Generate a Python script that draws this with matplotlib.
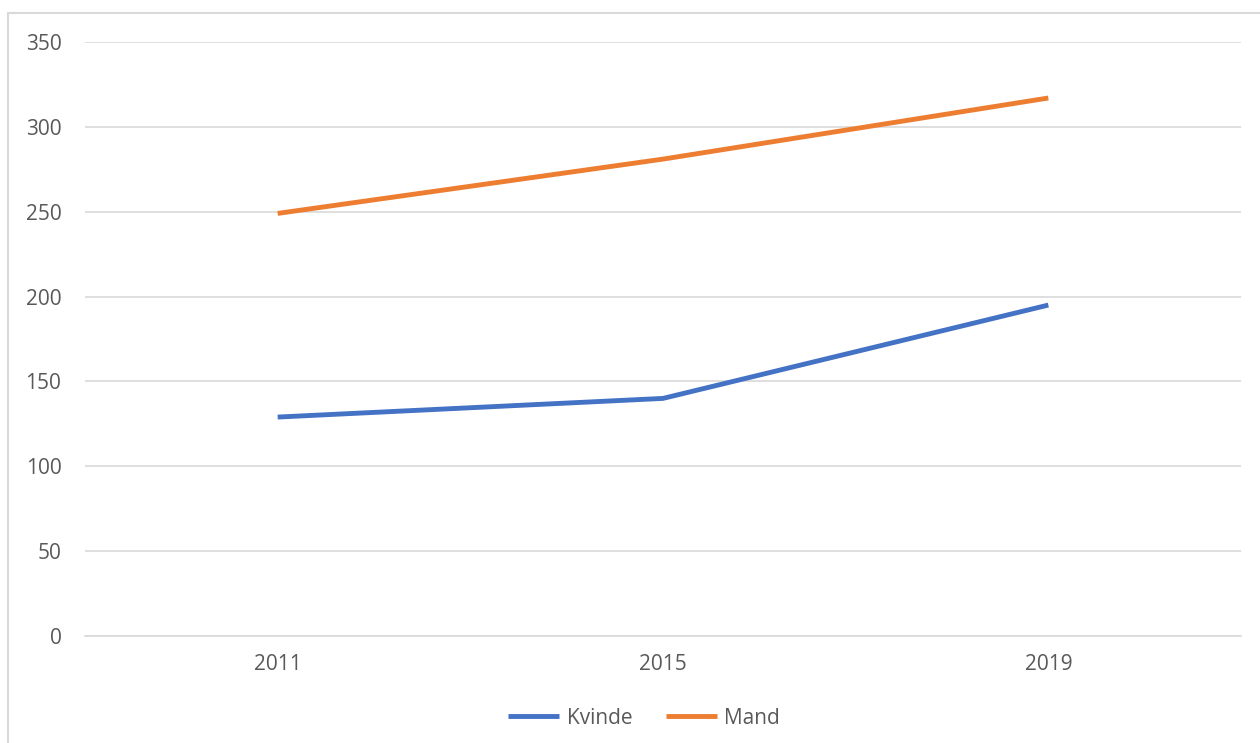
import matplotlib.pyplot as plt
from matplotlib.patches import Rectangle

years = ["2011", "2015", "2019"]
kvinde = [129, 140, 195]
mand = [249, 281, 317]
yticks = [0, 50, 100, 150, 200, 250, 300, 350]

plt.rcParams['font.family'] = ['Open Sans', 'DejaVu Sans']
text_color = '#595959'

fig = plt.figure(figsize=(12.6, 7.43), dpi=100)
ax = fig.add_axes([85 / 1260, 1 - 636 / 743, (1241 - 85) / 1260, (636 - 42) / 743])

x = [i + 0.5 for i in range(len(years))]
ax.plot(x, kvinde, color='#4472C4', lw=3.5, solid_capstyle='butt', label='Kvinde')
ax.plot(x, mand, color='#ED7D31', lw=3.5, solid_capstyle='butt', label='Mand')

ax.set_xlim(0, len(years))
ax.set_ylim(0, 350)
ax.set_yticks(yticks)
ax.set_xticks(x)
ax.set_xticklabels(years)
ax.yaxis.grid(True, color='#d9d9d9', lw=1.2)
ax.set_axisbelow(True)
for s in ax.spines.values():
    s.set_visible(False)
ax.spines['bottom'].set_visible(True)
ax.spines['bottom'].set_color('#d9d9d9')
ax.spines['bottom'].set_linewidth(1.2)
ax.tick_params(length=0, labelsize=15, colors=text_color)
ax.tick_params(axis='y', pad=17)
ax.tick_params(axis='x', pad=13)

leg = fig.legend(loc='center', bbox_to_anchor=(644 / 1260, 1 - 718 / 743), ncol=2, frameon=False,
                 fontsize=15, handlelength=2.45, columnspacing=1.6, handletextpad=0.35)
for t in leg.get_texts():
    t.set_color(text_color)

# outer chart border (extends past the right and bottom edges)
fig.patches.append(Rectangle((8 / 1260, -0.05), 1.1, 1 - 13 / 743 + 0.05, transform=fig.transFigure,
                             fill=False, edgecolor='#d9d9d9', lw=1.5))

fig.savefig('out.png', dpi=100)
